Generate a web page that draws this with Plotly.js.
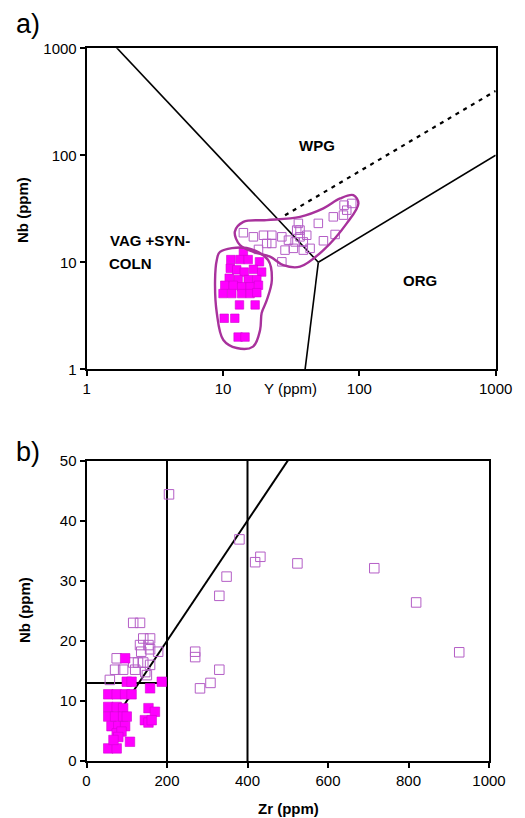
<!DOCTYPE html>
<html>
<head>
<meta charset="utf-8">
<script src="https://cdn.plot.ly/plotly-3.0.1.min.js"></script>
<style>html,body{margin:0;padding:0;background:#fff;}#chart{width:525px;height:818px;}</style>
</head>
<body>
<div id="chart"></div>
<script>
// ---------- Panel a: Nb vs Y (log-log) ----------
const aFilledY  = [14.1,11.4,13.3,15.3,18.5,11.3,12.6,14.3,16.7,19.2,11.1,12.9,15.3,17.7,10.3,11.9,13.7,15.8,18.2,10.0,11.6,13.7,15.8,17.7,13.2,17.2,10.2,12.2,12.9,14.5];
const aFilledNb = [12.5,10.6,10.6,10.6,10.1,8.8,8.5,8.1,8.6,8.1,7.1,6.9,6.9,6.9,6.1,6.1,5.9,5.9,6.1,5.1,5.1,5.1,5.1,5.2,4.0,4.0,3.0,3.0,2.0,2.0];
const aOpenY  = [14.1,16.7,19.8,22.8,22.8,18.2,27.0,30.2,35.7,36.7,36.7,33.8,38.8,32.8,38.8,28.5,27.0,43.5,50.0,54.5,66.4,64.4,76.4,77.2,87.9,80.8,34.7,41.1,20.9];
const aOpenNb = [18.9,17.3,17.9,17.9,15.0,13.2,17.3,16.1,23.1,20.0,17.3,15.5,15.5,13.5,13.0,13.0,10.1,13.5,23.1,15.9,18.2,26.6,27.6,34.2,35.5,30.7,20.0,17.9,15.0];

// field outlines (hand-drawn in original)
const outlineFilledY  = [9.5,14.9,21.4,22.8,20.9,19.2,18.7,16.6,12.6,10.05,9.0,8.74,9.0,9.5];
const outlineFilledNb = [12.5,13.6,10.5,6.8,4.4,3.36,2.33,1.63,1.58,1.88,3.36,6.8,10.5,12.5];
const outlineOpenY  = [12.2,14.1,20.9,36.7,54.5,72.2,90.3,98.4,80.8,54.5,36.7,27.7,22.1,16.7,13.3,12.2];
const outlineOpenNb = [19.3,23.9,24.8,26.6,31.9,39.5,42.4,35.5,23.1,13.0,9.1,9.4,11.3,12.5,14.5,19.3];

// discrimination boundaries (Pearce et al. 1984)
const lineVagWpgY = [1.56, 50];   const lineVagWpgNb = [1100, 10];
const lineWpgOrgY = [50, 1000];   const lineWpgOrgNb = [10, 100];
const lineVagOrgY = [50, 40];     const lineVagOrgNb = [10, 1];
const lineDashY   = [28.5, 1000]; const lineDashNb   = [27.5, 400];

const aTicks = [1, 10, 100, 1000];
const aTickText = ["1", "10", "100", "1000"];

// ---------- Panel b: Nb vs Zr ----------
const bFilledZr = [96,100,112,187,54,75,96,112,158,54,75,91,154,170,54,71,91,100,145,154,162,62,79,96,75,87,79,108,54,75,67];
const bFilledNb = [17.1,13.2,13.2,13.2,11.1,11.1,11.1,11.1,12.1,9.0,9.0,8.8,8.8,8.2,7.4,7.4,7.4,7.4,6.8,6.4,6.8,5.8,5.8,5.8,4.6,4.9,4.0,3.2,2.1,2.1,3.5];
const bOpenZr = [205,380,419,432,348,524,715,819,926,330,270,270,282,308,330,116,133,141,158,133,154,136,158,178,75,116,128,141,71,91,121,146,58,150,158];
const bOpenNb = [44.4,36.9,33.1,34.0,30.7,32.9,32.1,26.4,18.1,27.5,18.2,17.3,12.1,13.0,15.2,23.0,23.0,20.4,20.4,19.3,19.3,18.2,18.6,18.2,17.1,16.4,16.4,16.4,15.2,15.2,15.2,14.8,13.5,14.3,16.0];

const bVert1Zr = [200, 200]; const bVert1Nb = [0, 50];
const bVert2Zr = [400, 400]; const bVert2Nb = [0, 50];
const bHorZr = [0, 200];     const bHorNb = [13, 13];
const bDiagZr = [80, 510];   const bDiagNb = [8, 51];

const bXTicks = [0, 200, 400, 600, 800, 1000];
const bYTicks = [0, 10, 20, 30, 40, 50];

// ---------- styles ----------
const FILL = '#ff00ff', FILLEDGE = '#d400d4', OPEN = '#b45ec6', OUTLINE = '#a8329c';
const blk = {color: '#000', width: 1.6};

function line(x, y, ax, extra) {
  return Object.assign({x: x, y: y, mode: 'lines', line: blk, hoverinfo: 'skip', showlegend: false,
    xaxis: ax ? 'x2' : 'x', yaxis: ax ? 'y2' : 'y'}, extra || {});
}

const traces = [
  line(lineVagWpgY, lineVagWpgNb, 0),
  line(lineWpgOrgY, lineWpgOrgNb, 0),
  line(lineVagOrgY, lineVagOrgNb, 0),
  line(lineDashY, lineDashNb, 0, {line: {color: '#000', width: 2.2, dash: '4px,5px'}}),
  {x: aFilledY, y: aFilledNb, mode: 'markers', type: 'scatter', showlegend: false, xaxis: 'x', yaxis: 'y',
   marker: {symbol: 'square', size: 8.5, color: FILL, line: {color: FILLEDGE, width: 0.6}}},
  {x: aOpenY, y: aOpenNb, mode: 'markers', type: 'scatter', showlegend: false, xaxis: 'x', yaxis: 'y',
   marker: {symbol: 'square-open', size: 8.5, color: OPEN, line: {color: OPEN, width: 1}}},
  line(outlineFilledY, outlineFilledNb, 0, {line: {color: OUTLINE, width: 2.4, shape: 'spline', smoothing: 1}}),
  line(outlineOpenY, outlineOpenNb, 0, {line: {color: OUTLINE, width: 2.4, shape: 'spline', smoothing: 1}}),

  line(bVert1Zr, bVert1Nb, 1, {line: {color: '#000', width: 2}}),
  line(bVert2Zr, bVert2Nb, 1, {line: {color: '#000', width: 2}}),
  line(bHorZr, bHorNb, 1, {line: {color: '#000', width: 2}}),
  line(bDiagZr, bDiagNb, 1, {line: {color: '#000', width: 2}}),
  {x: bOpenZr, y: bOpenNb, mode: 'markers', type: 'scatter', showlegend: false, xaxis: 'x2', yaxis: 'y2',
   marker: {symbol: 'square-open', size: 9.5, color: OPEN, line: {color: OPEN, width: 1}}},
  {x: bFilledZr, y: bFilledNb, mode: 'markers', type: 'scatter', showlegend: false, xaxis: 'x2', yaxis: 'y2',
   marker: {symbol: 'square', size: 9.5, color: FILL, line: {color: FILLEDGE, width: 0.6}}}
];

const font = {family: 'Liberation Sans, Arial, sans-serif', size: 15, color: '#000'};
const axBase = {showgrid: false, zeroline: false, showline: true, mirror: true, linecolor: '#000', linewidth: 2,
  ticks: 'outside', ticklen: 5, tickwidth: 2, tickcolor: '#000', tickfont: font};

const W = 525, H = 818;
function px(x) { return x / W; }
function py(y) { return 1 - y / H; }
function ann(text, x, y, opts) {
  return Object.assign({text: text, x: px(x), y: py(y), xref: 'paper', yref: 'paper', showarrow: false,
    xanchor: 'center', yanchor: 'middle', font: font}, opts || {});
}
const bold = {family: 'Liberation Sans, Arial, sans-serif', size: 15, color: '#000', weight: 'bold'};
const big = {family: 'Liberation Sans, Arial, sans-serif', size: 27, color: '#000'};

const layout = {
  width: W, height: H,
  margin: {l: 0, r: 0, t: 0, b: 0},
  paper_bgcolor: '#fff', plot_bgcolor: '#fff',
  font: font,
  xaxis: Object.assign({}, axBase, {type: 'log', range: [0, 3], tickvals: aTicks, ticktext: aTickText,
    domain: [px(86.7), px(495.7)], anchor: 'y'}),
  yaxis: Object.assign({}, axBase, {type: 'log', range: [0, 3], tickvals: aTicks, ticktext: aTickText,
    domain: [py(369.3), py(48.3)], anchor: 'x'}),
  xaxis2: Object.assign({}, axBase, {range: [0, 1000], tickvals: bXTicks,
    domain: [px(86.5), px(489)], anchor: 'y2'}),
  yaxis2: Object.assign({}, axBase, {range: [0, 50], tickvals: bYTicks,
    domain: [py(761), py(460.7)], anchor: 'x2'}),
  annotations: [
    ann('a)', 28, 24, {font: big}),
    ann('b)', 28, 452, {font: big}),
    ann('Y (ppm)', 290, 388),
    ann('Nb (ppm)', 22, 210, {textangle: -90, font: bold}),
    ann('Nb (ppm)', 24, 610, {textangle: -90, font: bold}),
    ann('Zr (ppm)', 288, 808, {font: bold}),
    ann('WPG', 317, 145, {font: bold}),
    ann('VAG +SYN-', 150, 240, {font: bold}),
    ann('COLN', 130, 263, {font: bold}),
    ann('ORG', 420, 280, {font: bold})
  ]
};

Plotly.newPlot('chart', traces, layout, {displayModeBar: false, staticPlot: true});
</script>
</body>
</html>
